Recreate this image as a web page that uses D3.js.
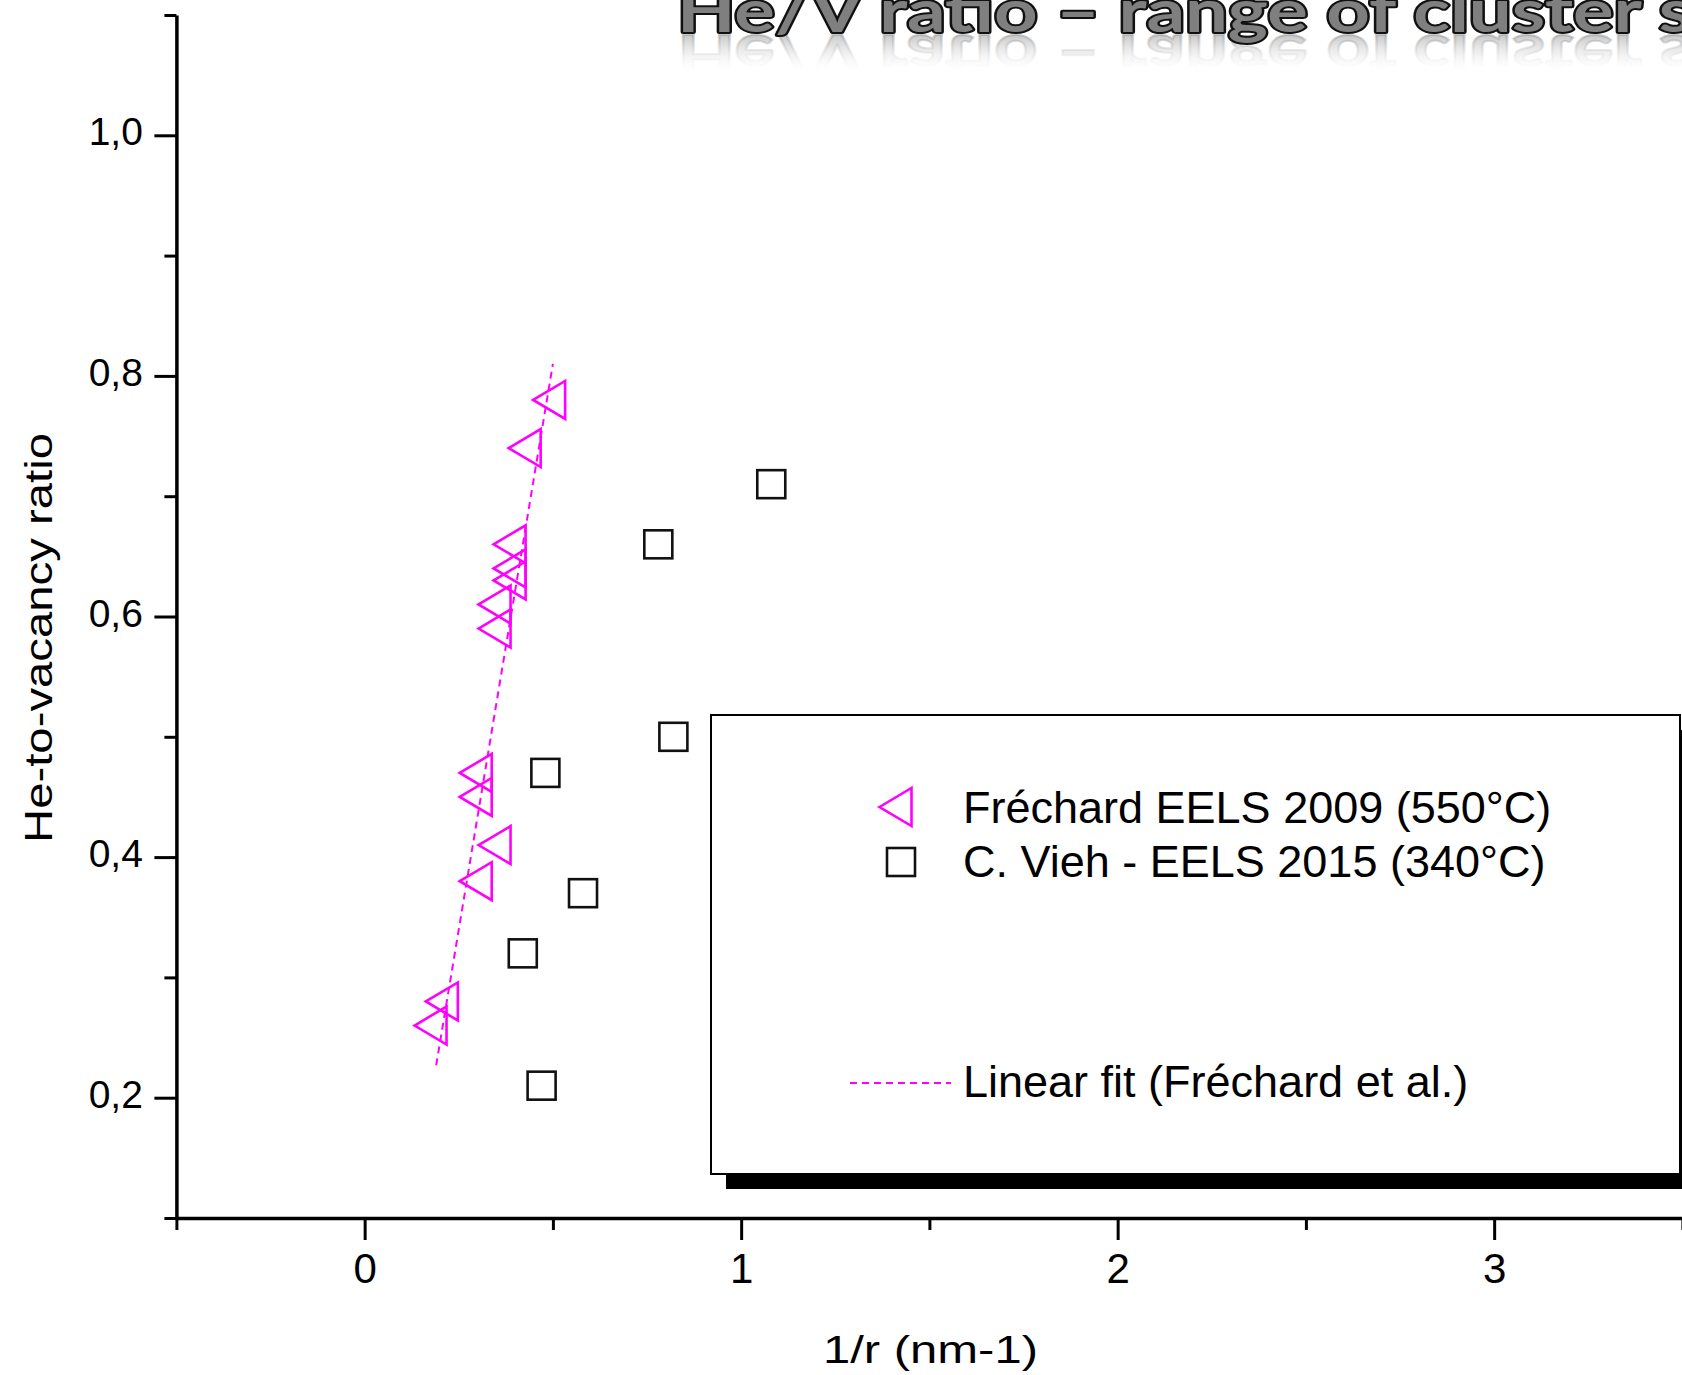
<!DOCTYPE html>
<html>
<head>
<meta charset="utf-8">
<script src="https://cdn.jsdelivr.net/npm/d3@7"></script>
<style>
  html, body { margin: 0; padding: 0; background: #fff; overflow: hidden; }
  svg { display: block; }
</style>
</head>
<body>
<svg id="chart" width="1682" height="1375"></svg>
<script>
// ---- data ----
const frechardX = [0.49, 0.425, 0.385, 0.385, 0.385, 0.345, 0.345, 0.295, 0.295, 0.345, 0.295, 0.205, 0.175];
const frechardY = [0.78, 0.74, 0.66, 0.64, 0.63, 0.61, 0.59, 0.47, 0.45, 0.41, 0.38, 0.28, 0.26];
const viehX = [1.08, 0.78, 0.82, 0.48, 0.58, 0.42, 0.47];
const viehY = [0.71, 0.66, 0.50, 0.47, 0.37, 0.32, 0.21];
const fitX = [0.19, 0.50];
const fitY = [0.227, 0.81];
const xMajorTicks = [0, 1, 2, 3];
const xMinorTicks = [-0.5, 0.5, 1.5, 2.5, 3.5];
const yMajorTicks = [0.2, 0.4, 0.6, 0.8, 1.0];
const yMinorTicks = [0.1, 0.3, 0.5, 0.7, 0.9, 1.1];
const legendLabels = ["Fréchard EELS 2009 (550°C)", "C. Vieh - EELS 2015 (340°C)", "Linear fit (Fréchard et al.)"];
const titleText = "He/V ratio – range of cluster sizes";
const xLabel = "1/r (nm-1)";
const yLabel = "He-to-vacancy ratio";

const MAG = "#FF00FF";
const FONT = "'Liberation Sans', Arial, sans-serif";

const svg = d3.select("#chart");
const defs = svg.append("defs");

const x = d3.scaleLinear().domain([-0.5, 3.5]).range([176.4, 1682.4]);
const y = d3.scaleLinear().domain([0.1, 1.1]).range([1218, 15]);

// ---- title with reflection ----
const grad = defs.append("linearGradient").attr("id", "refl")
  .attr("gradientUnits", "userSpaceOnUse")
  .attr("x1", 0).attr("y1", 0).attr("x2", 0).attr("y2", -38);
grad.append("stop").attr("offset", 0).attr("stop-color", "#9a9a9a").attr("stop-opacity", 0.55);
grad.append("stop").attr("offset", 1).attr("stop-color", "#ffffff").attr("stop-opacity", 0);

const titleFont = "Lato, 'Open Sans', sans-serif";
const titleSize = 60;
// measure to set horizontal stretch so "…cluster" ends where the reference does
const meas = svg.append("text").attr("font-family", titleFont).attr("font-weight", "bold")
  .attr("font-size", titleSize).text("He/V ratio – range of cluster");
const prefW = meas.node().getComputedTextLength();
meas.remove();
const sx = (1642 - 677) / prefW;

const refl = svg.append("g").attr("transform", `translate(677,35) scale(${sx},-1)`);
refl.append("text").attr("x", 0).attr("y", 0)
  .attr("font-family", titleFont).attr("font-weight", "bold").attr("font-size", titleSize)
  .attr("fill", "url(#refl)").attr("stroke", "url(#refl)").attr("stroke-width", 2)
  .text(titleText);

const tg = svg.append("g").attr("transform", `translate(677,32) scale(${sx},1)`);
tg.append("text").attr("x", 0).attr("y", 0)
  .attr("font-family", titleFont).attr("font-weight", "bold").attr("font-size", titleSize)
  .attr("fill", "#7f7f7f").attr("stroke", "#111").attr("stroke-width", 4)
  .attr("stroke-linejoin", "round").attr("paint-order", "stroke")
  .text(titleText);

// ---- axes ----
const fmt = d => d3.format(".1f")(d).replace(".", ",");

const yAxis = svg.append("g").attr("transform", `translate(${x(-0.5)},0)`)
  .call(d3.axisLeft(y).tickValues(yMajorTicks).tickSize(22).tickSizeOuter(0).tickFormat(fmt));
yAxis.select(".domain").attr("stroke", "#000").attr("stroke-width", 3.5);
yAxis.selectAll(".tick line").attr("stroke", "#000").attr("stroke-width", 3);
yAxis.selectAll(".tick text").attr("x", -33.5).attr("dy", 0).attr("y", 9.5)
  .attr("font-family", FONT).attr("font-size", 39).attr("fill", "#000");

const yMinor = svg.append("g").attr("transform", `translate(${x(-0.5)},0)`)
  .call(d3.axisLeft(y).tickValues(yMinorTicks).tickSize(12).tickSizeOuter(0).tickFormat(""));
yMinor.select(".domain").remove();
yMinor.selectAll(".tick line").attr("stroke", "#000").attr("stroke-width", 3);

const xAxis = svg.append("g").attr("transform", `translate(0,${y(0.1)})`)
  .call(d3.axisBottom(x).tickValues(xMajorTicks).tickSize(22).tickSizeOuter(0).tickFormat(d3.format("d")));
xAxis.select(".domain").attr("stroke", "#000").attr("stroke-width", 3.5);
xAxis.selectAll(".tick line").attr("stroke", "#000").attr("stroke-width", 3);
xAxis.selectAll(".tick text").attr("y", 65).attr("dy", 0)
  .attr("font-family", FONT).attr("font-size", 42).attr("fill", "#000");

const xMinor = svg.append("g").attr("transform", `translate(0,${y(0.1)})`)
  .call(d3.axisBottom(x).tickValues(xMinorTicks).tickSize(12).tickSizeOuter(0).tickFormat(""));
xMinor.select(".domain").remove();
xMinor.selectAll(".tick line").attr("stroke", "#000").attr("stroke-width", 3);

// axis titles
svg.append("text").attr("x", 930.5).attr("y", 1363).attr("text-anchor", "middle")
  .attr("font-family", FONT).attr("font-size", 39).attr("fill", "#000")
  .attr("textLength", 215).attr("lengthAdjust", "spacingAndGlyphs")
  .text(xLabel);
svg.append("text").attr("transform", "translate(51.7,638) rotate(-90)").attr("text-anchor", "middle")
  .attr("font-family", FONT).attr("font-size", 38).attr("fill", "#000")
  .attr("textLength", 410).attr("lengthAdjust", "spacingAndGlyphs")
  .text(yLabel);

// ---- fit line ----
const fitData = fitX.map((v, i) => [v, fitY[i]]);
svg.append("path").datum(fitData)
  .attr("d", d3.line().x(d => x(d[0])).y(d => y(d[1])))
  .attr("fill", "none").attr("stroke", MAG).attr("stroke-width", 2)
  .attr("stroke-dasharray", "7,5");

// ---- markers ----
const triPath = "M-16,0L16,-19L16,19Z";
const frechard = frechardX.map((v, i) => [v, frechardY[i]]);
svg.append("g").selectAll("path").data(frechard).join("path")
  .attr("d", triPath)
  .attr("transform", d => `translate(${x(d[0])},${y(d[1])})`)
  .attr("fill", "none").attr("stroke", MAG).attr("stroke-width", 2.6);

const vieh = viehX.map((v, i) => [v, viehY[i]]);
svg.append("g").selectAll("rect").data(vieh).join("rect")
  .attr("x", d => x(d[0]) - 14).attr("y", d => y(d[1]) - 14)
  .attr("width", 28).attr("height", 28)
  .attr("fill", "none").attr("stroke", "#111").attr("stroke-width", 2.6);

// ---- legend ----
const lg = svg.append("g");
lg.append("rect").attr("x", 726).attr("y", 730).attr("width", 1000).attr("height", 459).attr("fill", "#000");
lg.append("rect").attr("x", 711).attr("y", 715).attr("width", 969).attr("height", 459)
  .attr("fill", "#fff").attr("stroke", "#000").attr("stroke-width", 2);

lg.append("path").attr("d", triPath).attr("transform", "translate(895.5,807)")
  .attr("fill", "none").attr("stroke", MAG).attr("stroke-width", 2.6);
lg.append("rect").attr("x", 887).attr("y", 848).attr("width", 28).attr("height", 28)
  .attr("fill", "none").attr("stroke", "#111").attr("stroke-width", 2.6);
lg.append("line").attr("x1", 850).attr("x2", 951).attr("y1", 1083).attr("y2", 1083)
  .attr("stroke", MAG).attr("stroke-width", 2).attr("stroke-dasharray", "7,5");

const legY = [823, 877, 1097];
lg.selectAll("text.lab").data(legendLabels).join("text").attr("class", "lab")
  .attr("x", 963).attr("y", (d, i) => legY[i])
  .attr("font-family", FONT).attr("font-size", 45).attr("fill", "#000")
  .text(d => d);
</script>
</body>
</html>
